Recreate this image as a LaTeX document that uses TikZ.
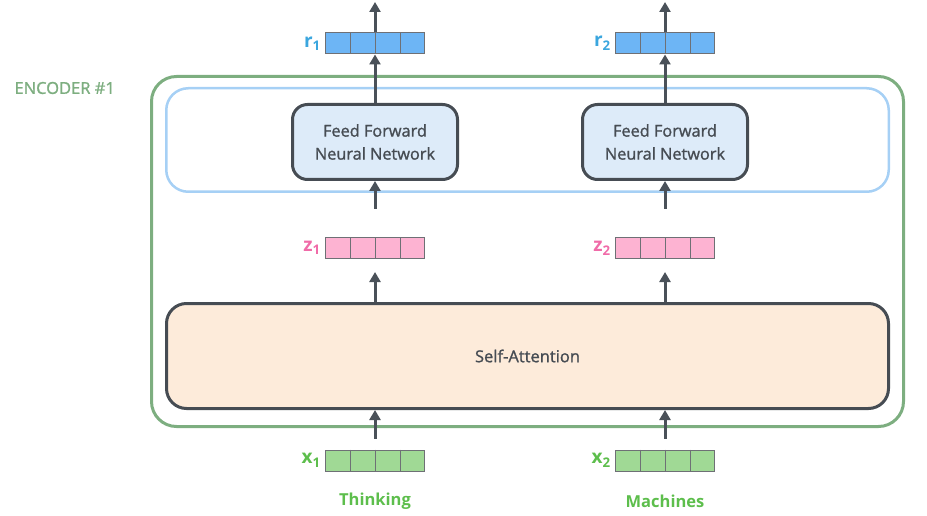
\documentclass[tikz,border=0pt]{standalone}
\usepackage{fontspec}
\setmainfont{Open Sans}
\newfontfamily\semib{Open Sans}[RawFeature={embolden=1.2}]
\usepackage{tikz}
\usetikzlibrary{arrows.meta, positioning, calc}

\definecolor{encgreen}{HTML}{7DAE80}
\definecolor{layerblue}{HTML}{A6D0F5}
\definecolor{ffnfill}{HTML}{DDEBF9}
\definecolor{safill}{HTML}{FDEBDA}
\definecolor{boxgray}{HTML}{464C53}
\definecolor{arrgray}{HTML}{4A5159}
\definecolor{cellgray}{HTML}{6E7075}
\definecolor{rfill}{HTML}{6DB5F5}
\definecolor{rtext}{HTML}{3BA6DE}
\definecolor{zfill}{HTML}{FDB3D2}
\definecolor{ztext}{HTML}{F06BA8}
\definecolor{xfill}{HTML}{A0D995}
\definecolor{xtext}{HTML}{5DBE4C}

\tikzset{
  arr/.style={draw=arrgray, line width=3pt, -{Triangle[width=11pt,length=10pt]}},
  vec/.style={draw=cellgray, line width=1pt, minimum width=99pt, minimum height=21pt, inner sep=0pt},
  ffn/.style={draw=boxgray, fill=ffnfill, line width=3pt, rounded corners=15pt,
    minimum width=165pt, minimum height=75pt, align=center, text=boxgray,
    font=\semib\fontsize{16.3}{23}\selectfont},
  vlabel/.style={font=\bfseries\fontsize{19}{19}\selectfont, inner sep=0pt},
  word/.style={font=\bfseries\fontsize{16.5}{16.5}\selectfont, text=xtext}
}

\begin{document}
\begin{tikzpicture}[x=1pt, y=-1pt]
\useasboundingbox (0,0) rectangle (927,516);

% encoder and its two layers
\node[draw=encgreen, line width=3pt, rounded corners=25pt, minimum width=752pt, minimum height=350pt] (enc) at (527.5,251.5) {};
\node[font=\semib\fontsize{16.5}{16.5}\selectfont, text=encgreen, anchor=west] (enclbl) at (11,88) {ENCODER \#1};
\node[draw=layerblue, line width=2.5pt, rounded corners=22pt, minimum width=722.5pt, minimum height=103.5pt] (layer) at (527.5,140) {};
\node[draw=boxgray, fill=safill, line width=3pt, rounded corners=20pt, minimum width=722pt, minimum height=105pt,
  text=boxgray, font=\semib\fontsize{16.5}{16.5}\selectfont] (sa) at (527.5,356) {Self-Attention};
\node[ffn] (ffn1) at (375,142) {Feed Forward\\Neural Network};
\node[ffn] (ffn2) at (665,142) {Feed Forward\\Neural Network};

% vectors
\node[vec, fill=rfill] (r1) at (375,43.5) {};
\node[vec, fill=rfill] (r2) at (665,43.5) {};
\node[vec, fill=zfill] (z1) at (375,248) {};
\node[vec, fill=zfill] (z2) at (665,248) {};
\node[vec, fill=xfill] (x1) at (375,460.5) {};
\node[vec, fill=xfill] (x2) at (665,460.5) {};
\foreach \v in {r1,r2,z1,z2,x1,x2}
  \foreach \i in {1,2,3}
    \draw[cellgray, line width=1pt] ($(\v.north west)!\i/4!(\v.north east)$) -- ($(\v.south west)!\i/4!(\v.south east)$);

\node[vlabel, text=rtext, left=4pt of r1] (r1lbl) {r\textsubscript{1}};
\node[vlabel, text=rtext, left=4pt of r2] (r2lbl) {r\textsubscript{2}};
\node[vlabel, text=ztext, left=4pt of z1] (z1lbl) {z\textsubscript{1}};
\node[vlabel, text=ztext, left=4pt of z2] (z2lbl) {z\textsubscript{2}};
\node[vlabel, text=xtext, left=4pt of x1] (x1lbl) {x\textsubscript{1}};
\node[vlabel, text=xtext, left=4pt of x2] (x2lbl) {x\textsubscript{2}};

\node[word] (w1) at (375,501) {Thinking};
\node[word] (w2) at (665,501) {Machines};

% arrows
\coordinate (out1) at (375,2);
\coordinate (out2) at (665,2);
\draw[arr] (r1.north) -- (out1);
\draw[arr] (r2.north) -- (out2);
\draw[arr] (ffn1.north) -- (r1.south);
\draw[arr] (ffn2.north) -- (r2.south);
\draw[arr, shorten <=28pt] (z1.north) -- (ffn1.south);
\draw[arr, shorten <=28pt] (z2.north) -- (ffn2.south);
\draw[arr, shorten >=13pt] (sa.north -| z1) -- (z1.south);
\draw[arr, shorten >=13pt] (sa.north -| z2) -- (z2.south);
\draw[arr, shorten <=11pt] (x1.north) -- (x1.north |- sa.south);
\draw[arr, shorten <=11pt] (x2.north) -- (x2.north |- sa.south);
\end{tikzpicture}
\end{document}
